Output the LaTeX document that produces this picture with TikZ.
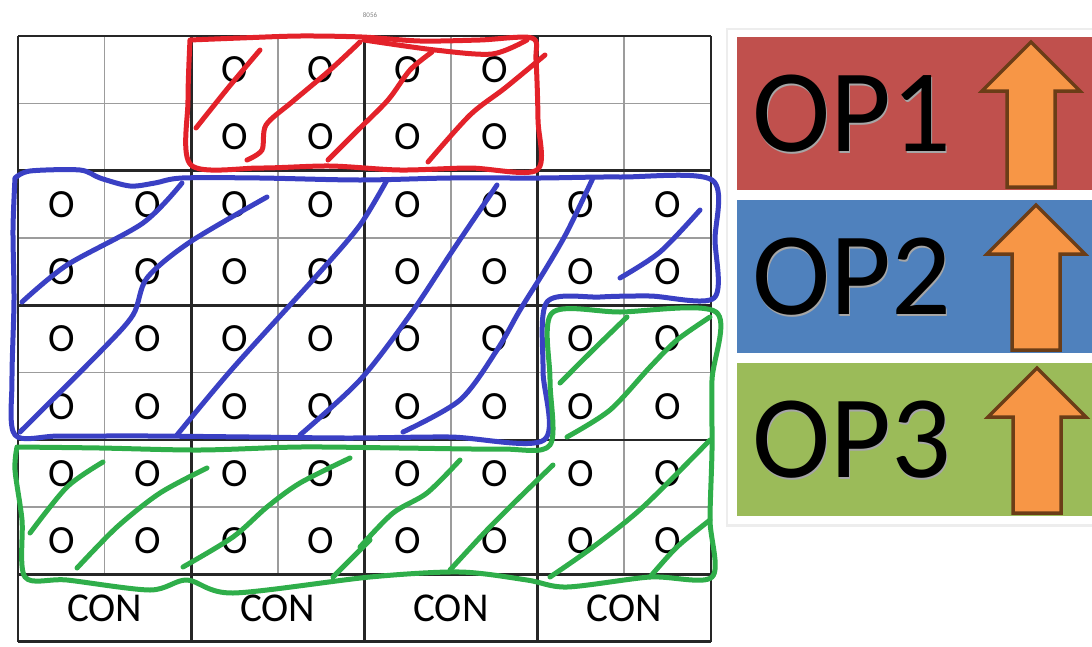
\documentclass[tikz,border=0pt]{standalone}
\usepackage{fontspec}
\setmainfont{Carlito}
\usetikzlibrary{positioning}
\definecolor{penRed}{HTML}{E3222A}
\definecolor{penBlue}{HTML}{3A40C4}
\definecolor{penGreen}{HTML}{2FAE4A}
\definecolor{opRed}{HTML}{C0504D}
\definecolor{opBlue}{HTML}{4F81BD}
\definecolor{opGreen}{HTML}{9BBB59}
\definecolor{arrFill}{HTML}{F79646}
\definecolor{arrLine}{HTML}{6B3D17}
\definecolor{gridGray}{HTML}{9C9C9C}

\begin{document}
\begin{tikzpicture}[x=1pt,y=-1pt,
  gridthin/.style={gridGray,line width=1.6pt},
  gridthick/.style={black!85,line width=2.6pt},
  seat/.style={inner sep=0pt,font=\fontsize{40}{40}\selectfont},
  con/.style={inner sep=0pt,font=\fontsize{41}{41}\selectfont},
  pen/.style={line width=5pt,line cap=round,line join=round},
  oplabel/.style={inner sep=0pt,font=\fontsize{118}{118}\selectfont},
  uparr/.style={fill=arrFill,draw=arrLine,line width=3.5pt,line join=miter}]
\useasboundingbox (0,0) rectangle (1092,646);
\def\gx{18}
\def\gy{36}
\def\cw{86.6}
\def\rh{67.3}
% --- seat grid ---
\node[font=\fontsize{7}{7}\selectfont,text=gray] (sheet) at (370,15) {8056};
\foreach \i in {1,3,5,7} \draw[gridthin] ({\gx+\i*\cw},\gy) -- ({\gx+\i*\cw},{\gy+8*\rh});
\foreach \j in {1,3,5,7} \draw[gridthin] (\gx,{\gy+\j*\rh}) -- ({\gx+8*\cw},{\gy+\j*\rh});
\foreach \i in {0,2,4,6,8} \draw[gridthick] ({\gx+\i*\cw},\gy) -- ({\gx+\i*\cw},{\gy+9*\rh});
\foreach \j in {0,2,4,6,8,9} \draw[gridthick] (\gx,{\gy+\j*\rh}) -- ({\gx+8*\cw},{\gy+\j*\rh});
\foreach \r in {0,1} \foreach \c in {2,...,5}
  \node[seat] (s\r\c) at ({\gx+(\c+0.5)*\cw},{\gy+(\r+0.5)*\rh}) {O};
\foreach \r in {2,...,7} \foreach \c in {0,...,7}
  \node[seat] (s\r\c) at ({\gx+(\c+0.5)*\cw},{\gy+(\r+0.5)*\rh}) {O};
\foreach \k in {0,...,3}
  \node[con] (con\k) at ({\gx+(2*\k+1)*\cw},{\gy+8.5*\rh}) {CON};
% --- red block ---
\draw[pen,penRed] plot[smooth] coordinates {(190,40) (188,100) (191,165) (260,168) (330,166) (400,170)
  (470,168) (537,170) (538,120) (536,60) (532,38) (480,40) (420,41) (362,37) (300,36) (240,38) (190,40)};
\draw[pen,penRed] plot[smooth] coordinates {(364,40) (435,50) (492,54) (527,40)};
\draw[pen,penRed] plot[smooth] coordinates {(196,128) (228,88) (260,50)};
\draw[pen,penRed] plot[smooth] coordinates {(247,160) (262,150) (266,125) (292,102) (330,70) (360,42)};
\draw[pen,penRed] plot[smooth] coordinates {(328,160) (358,130) (388,100) (410,70) (432,52)};
\draw[pen,penRed] plot[smooth] coordinates {(428,162) (470,115) (505,88) (545,55)};
% --- blue block ---
\draw[pen,penBlue] plot[smooth] coordinates {(15,178) (30,171) (80,170) (100,178) (130,186) (155,183)
  (182,178) (260,178) (360,180) (450,178) (540,178) (620,177) (712,180) (715,240) (714,298) (650,296)
  (600,297) (547,302) (543,370) (544,440) (450,437) (350,438) (250,437) (150,436) (60,436) (15,435)
  (12,380) (14,300) (13,230) (15,178)};
\draw[pen,penBlue] plot[smooth] coordinates {(22,302) (67,265) (143,223) (182,183)};
\draw[pen,penBlue] plot[smooth] coordinates {(20,432) (100,352) (133,315) (147,278) (190,242) (267,197)};
\draw[pen,penBlue] plot[smooth] coordinates {(177,435) (233,368) (320,272) (360,225) (387,180)};
\draw[pen,penBlue] plot[smooth] coordinates {(300,435) (360,380) (410,315) (453,250) (497,185)};
\draw[pen,penBlue] plot[smooth] coordinates {(403,432) (460,400) (497,350) (520,310) (545,270) (567,232) (593,178)};
\draw[pen,penBlue] plot[smooth] coordinates {(620,278) (660,252) (700,210)};
% --- green block ---
\draw[pen,penGreen] plot[smooth] coordinates {(17,447) (100,448) (200,450) (300,447) (400,448) (500,449)
  (550,445) (550,380) (552,313) (620,312) (716,312) (712,380) (712,450) (710,520) (712,577) (650,577)
  (567,587) (527,580) (460,572) (370,577) (233,593) (187,580) (150,590) (67,580) (25,577) (22,520)
  (15,470) (17,447)};
\draw[pen,penGreen] plot[smooth] coordinates {(30,533) (67,487) (103,462)};
\draw[pen,penGreen] plot[smooth] coordinates {(77,568) (117,527) (160,493) (207,468)};
\draw[pen,penGreen] plot[smooth] coordinates {(183,567) (233,537) (267,507) (300,483) (350,458)};
\draw[pen,penGreen] plot[smooth] coordinates {(333,577) (370,540)};
\draw[pen,penGreen] plot[smooth] coordinates {(360,547) (393,513) (427,493) (460,460)};
\draw[pen,penGreen] plot[smooth] coordinates {(450,570) (487,530) (520,497) (553,465)};
\draw[pen,penGreen] plot[smooth] coordinates {(550,577) (593,547) (643,507) (710,440)};
\draw[pen,penGreen] plot[smooth] coordinates {(650,577) (677,547) (710,520)};
\draw[pen,penGreen] plot[smooth] coordinates {(560,383) (593,350) (627,317)};
\draw[pen,penGreen] plot[smooth] coordinates {(567,437) (610,410) (650,367) (677,340) (710,317)};
% --- operator panel ---
\fill[black!7] (726,28) rectangle (1094,527);
\fill[white] (728,30) rectangle (1092,524);
\foreach \n/\y/\c/\ax in {1/37/opRed/1031,2/200/opBlue/1036,3/363/opGreen/1037} {
  \fill[\c] (737,\y) rectangle (1092,\y+153);
  \node[inner sep=0pt,minimum width=355pt,minimum height=153pt,anchor=north west] (bar\n) at (737,\y) {};
  \node[oplabel,text=black!35,right=16.5pt of bar\n.west,yshift=-1.5pt] (shade\n) {OP\n};
  \node[oplabel,right=15pt of bar\n.west] (lbl\n) {OP\n};
  \draw[uparr] (\ax,\y+5) -- ++(49,49) -- ++(-25,0) -- ++(0,96) -- ++(-48,0) -- ++(0,-96) -- ++(-25,0) -- cycle;
}
\end{tikzpicture}
\end{document}
